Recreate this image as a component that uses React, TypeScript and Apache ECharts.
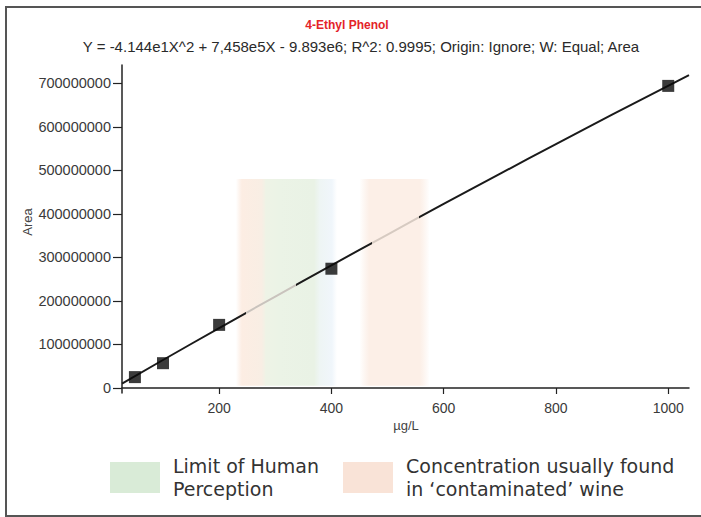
import React, { useEffect, useRef } from 'react';
import * as echarts from 'echarts';

// Calibration points (µg/L vs Area)
const pointX = [50, 100, 200, 400, 1000];
const pointY = [25e6, 57e6, 145e6, 274e6, 694e6];

// Fitted calibration curve
const fitX = [27, 100, 200, 300, 400, 500, 600, 700, 800, 900, 1037];
const fitY = [10.2e6, 64.3e6, 137.6e6, 210.1e6, 281.8e6, 352.6e6, 422.7e6, 491.9e6, 560.2e6, 627.8e6, 718.9e6];

// Tick labels
const xTicks = [200, 400, 600, 800, 1000];
const yTicks = [0, 100000000, 200000000, 300000000, 400000000, 500000000, 600000000, 700000000];

// Shaded ranges (µg/L)
const contaminatedLow = [230, 284];
const perceptionRange = [282, 410];
const contaminatedHigh = [450, 575];
const bandArea = [5e6, 480e6];

const titleText = '4-Ethyl Phenol';
const equationText = 'Y = -4.144e1X^2 + 7,458e5X - 9.893e6; R^2: 0.9995; Origin: Ignore; W: Equal; Area';
const legendPerception = ['Limit of Human', 'Perception'];
const legendContaminated = ['Concentration usually found', 'in \u2018contaminated\u2019 wine'];

const FONT = 'Liberation Sans, Arial, Helvetica, sans-serif';
const LFONT = 'DejaVu Sans, sans-serif';

export default function App() {
  const ref = useRef<HTMLDivElement>(null);
  useEffect(() => {
    if (!ref.current) return;
    const chart = echarts.init(ref.current, null, { renderer: 'svg' });
    const grad = (stops: [number, string][]) => ({
      type: 'linear', x: 0, y: 0, x2: 1, y2: 0,
      colorStops: stops.map(([offset, color]) => ({ offset, color })),
    });
    chart.setOption({
      animation: false,
      backgroundColor: '#ffffff',
      grid: { left: 122, top: 65, right: 12, bottom: 124 },
      xAxis: {
        type: 'value',
        min: 27,
        max: 1037,
        axisLine: { lineStyle: { color: '#222', width: 1.5 } },
        axisTick: { show: true, length: 6, customValues: xTicks, lineStyle: { color: '#222', width: 1.2 } },
        axisLabel: { customValues: xTicks, margin: 8, color: '#3a3a3a', fontSize: 14, fontFamily: FONT, formatter: (v: number) => String(v) },
        splitLine: { show: false },
      },
      yAxis: {
        type: 'value',
        min: -11.5e6,
        max: 742e6,
        axisLine: { show: true, lineStyle: { color: '#222', width: 1.5 } },
        axisTick: { show: true, length: 9, customValues: yTicks, lineStyle: { color: '#222', width: 1.2 } },
        axisLabel: { customValues: yTicks, margin: 11, color: '#3a3a3a', fontSize: 14.5, fontFamily: FONT, formatter: (v: number) => String(v) },
        splitLine: { show: false },
      },
      visualMap: {
        type: 'piecewise',
        show: false,
        seriesIndex: 1,
        dimension: 0,
        pieces: [
          { lt: 248, color: '#1a1a1a' },
          { gte: 248, lt: 337, color: '#c9c3bd' },
          { gte: 337, lt: 472, color: '#1a1a1a' },
          { gte: 472, lt: 556, color: '#d6cac1' },
          { gte: 556, color: '#1a1a1a' },
        ],
      },
      series: [
        {
          type: 'scatter',
          data: pointX.map((x, i) => [x, pointY[i]]),
          symbol: 'rect',
          symbolSize: 12,
          itemStyle: { color: '#0a0a0a' },
          z: 5,
          markArea: {
            silent: true,
            z: 1,
            data: [
              [
                { xAxis: contaminatedLow[0], yAxis: bandArea[0], itemStyle: { color: grad([[0, 'rgba(251,233,222,0)'], [0.2, '#fcede3'], [0.85, '#f8eee4'], [1, '#eef3e6']]) } },
                { xAxis: contaminatedLow[1], yAxis: bandArea[1] },
              ],
              [
                { xAxis: perceptionRange[0], yAxis: bandArea[0], itemStyle: { color: grad([[0, '#eef3e6'], [0.2, '#ebf3e6'], [0.68, '#e9f2e5'], [0.76, '#eef5f4'], [0.93, '#f0f6fb'], [1, 'rgba(240,246,251,0)']]) } },
                { xAxis: perceptionRange[1], yAxis: bandArea[1] },
              ],
              [
                { xAxis: contaminatedHigh[0], yAxis: bandArea[0], itemStyle: { color: grad([[0, 'rgba(251,236,227,0)'], [0.14, '#fcefe7'], [0.86, '#fcefe7'], [1, 'rgba(251,236,227,0)']]) } },
                { xAxis: contaminatedHigh[1], yAxis: bandArea[1] },
              ],
            ],
          },
        },
        {
          type: 'line',
          data: fitX.map((x, i) => [x, fitY[i]]),
          showSymbol: false,
          symbol: 'none',
          smooth: true,
          lineStyle: { width: 2 },
          z: 3,
        },
      ],
      graphic: [
        { type: 'rect', shape: { x: 6, y: 7, width: 760, height: 509 }, style: { fill: 'none', stroke: '#555', lineWidth: 2 }, silent: true },
        { type: 'text', x: 347, y: 25, style: { text: titleText, fill: '#e42329', font: `bold 12px ${FONT}`, textAlign: 'center', textVerticalAlign: 'middle' } },
        { type: 'text', x: 361, y: 46, style: { text: equationText, fill: '#2a2a2a', font: `15px ${FONT}`, textAlign: 'center', textVerticalAlign: 'middle' } },
        { type: 'text', x: 27, y: 222, rotation: Math.PI / 2, style: { text: 'Area', fill: '#444', font: `13px ${FONT}`, textAlign: 'center', textVerticalAlign: 'middle' } },
        { type: 'text', x: 406, y: 425, style: { text: '\u00b5g/L', fill: '#444', font: `13px ${FONT}`, textAlign: 'center', textVerticalAlign: 'middle' } },
        { type: 'rect', shape: { x: 110, y: 462, width: 50, height: 31 }, style: { fill: '#d9ebd7' } },
        { type: 'rect', shape: { x: 343, y: 462, width: 50, height: 31 }, style: { fill: '#f9e3d7' } },
        { type: 'text', x: 173, y: 466, style: { text: legendPerception[0], fill: '#333', font: `19px ${LFONT}`, textVerticalAlign: 'middle' } },
        { type: 'text', x: 173, y: 489, style: { text: legendPerception[1], fill: '#333', font: `19px ${LFONT}`, textVerticalAlign: 'middle' } },
        { type: 'text', x: 406, y: 466, style: { text: legendContaminated[0], fill: '#333', font: `19px ${LFONT}`, textVerticalAlign: 'middle' } },
        { type: 'text', x: 406, y: 489, style: { text: legendContaminated[1], fill: '#333', font: `19px ${LFONT}`, textVerticalAlign: 'middle' } },
      ],
    });
    return () => chart.dispose();
  }, []);
  return <div ref={ref} style={{ position: 'fixed', left: 0, top: 0, width: 701, height: 517, background: '#fff' }} />;
}
